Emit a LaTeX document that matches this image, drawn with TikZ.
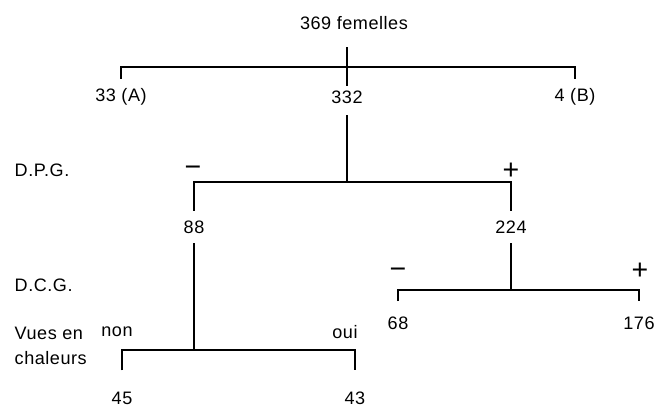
\documentclass[tikz,border=0pt]{standalone}
\usepackage{fontspec}
\setmainfont{Liberation Sans}[LetterSpace=3]
\usetikzlibrary{positioning}
\tikzset{
  count/.style={
    font=\fontsize{9.5}{11}\selectfont,
    inner sep=2pt
  },
  sign/.style={
    font=\fontsize{15}{16}\selectfont,
    inner sep=0pt
  },
  rowlabel/.style={
    anchor=west,
    align=left,
    font=\fontsize{9.5}{13.5}\selectfont
  },
  branch/.style={
    line width=0.75pt,
    draw=black
  }
}

\begin{document}
\begin{tikzpicture}[x=0.0185cm,y=-0.0185cm]
  \useasboundingbox (0,0) rectangle (658,415);
  % row labels
  \node[rowlabel] (lblDPG) at (8,170) {D.P.G.};
  \node[rowlabel] (lblDCG) at (8,285) {D.C.G.};
  \node[rowlabel] (lblVues) at (8,346) {Vues en\\chaleurs};
  % counts
  \node[count] (total) at (354,23) {369 femelles};
  \node[count] (grpA) at (121,97) {33 (A)};
  \node[count] (n332) at (347,97) {332};
  \node[count] (grpB) at (575,97) {4 (B)};
  \node[count] (n88) at (194,227) {88};
  \node[count] (n224) at (511,227) {224};
  \node[count] (n68) at (398,323) {68};
  \node[count] (n176) at (639,323) {176};
  \node[count] (n45) at (122,398) {45};
  \node[count] (n43) at (355,398) {43};
  % branch labels
  \node[sign] (dpgNeg) at (193,171) {−};
  \node[sign] (dpgPos) at (511,171) {+};
  \node[sign] (dcgNeg) at (398,273) {−};
  \node[sign] (dcgPos) at (640,271) {+};
  \node[count] (chalNon) at (117,332) {non};
  \node[count] (chalOui) at (345,332) {oui};
  % bars
  \coordinate (bar1) at (347,67);
  \coordinate (dpgBar) at (347,182);
  \coordinate (dcgBar) at (511,290);
  \coordinate (chalBar) at (194,350);
  \draw[branch,shorten <=7pt] (total.south -| n332) -- (n332);
  \draw[branch,shorten <=3pt,shorten >=3pt] (grpA.north) |- (bar1) -| (grpB.north);
  \draw[branch,shorten <=4pt] (n332) -- (dpgBar);
  \draw[branch,shorten <=3pt,shorten >=3pt] (n88.north) |- (dpgBar) -| (n224.north);
  \draw[branch,shorten <=3pt] (n88) -- (chalBar);
  \draw[branch,shorten <=3pt] (n224) -- (dcgBar);
  \draw[branch,shorten <=6pt,shorten >=6pt] (n68.north) |- (dcgBar) -| (n176.north);
  \draw[branch,shorten <=9pt,shorten >=9pt] (n45.north) |- (chalBar) -| (n43.north);
\end{tikzpicture}
\end{document}
